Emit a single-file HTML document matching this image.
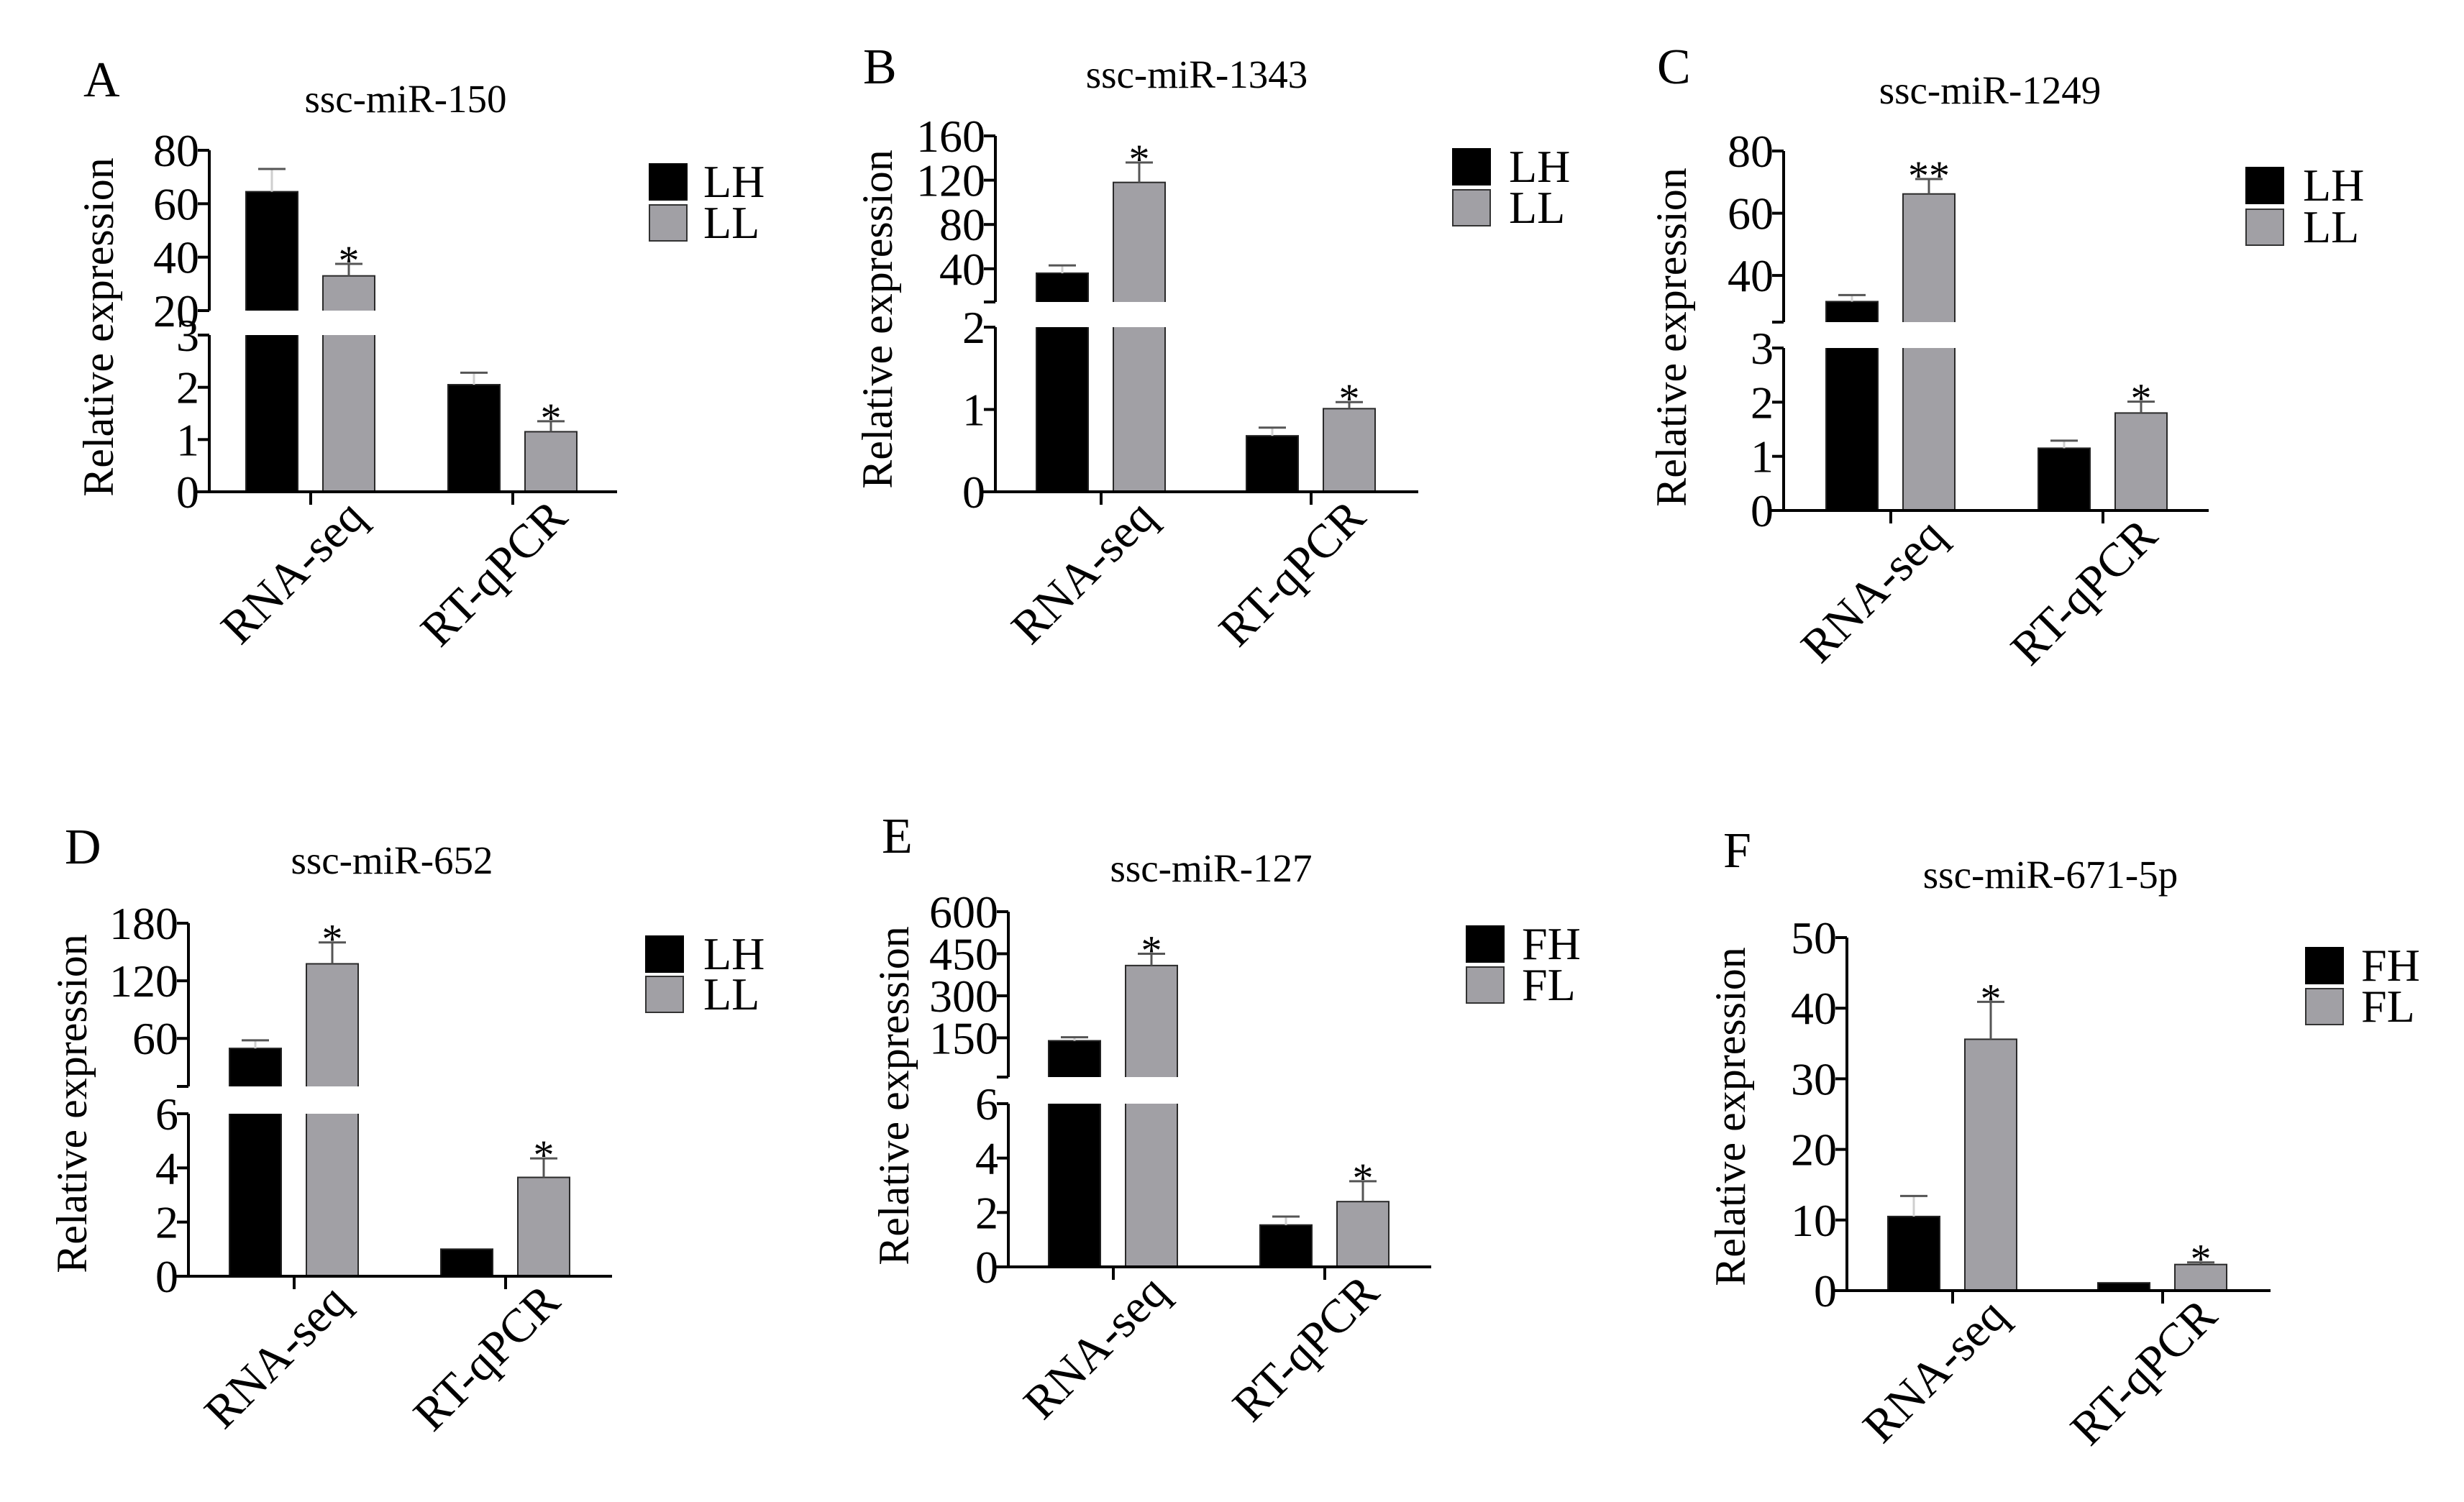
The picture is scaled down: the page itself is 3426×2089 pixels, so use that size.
<!DOCTYPE html>
<html><head><meta charset="utf-8"><style>
html,body{margin:0;padding:0;background:#fff;}
svg{display:block;}
text{font-family:"Liberation Serif",serif;fill:#000;}
</style></head><body>
<svg id="fig" width="3426" height="2089" viewBox="0 0 3426 2089" xmlns="http://www.w3.org/2000/svg"></svg>
<script>
// ---- data ----
const categories = ["RNA-seq", "RT-qPCR"];
// Panel A ssc-miR-150
const lhA = [64.5, 2.05], lhErrA = [73, 2.28], llA = [33, 1.15], llErrA = [37.5, 1.35];
const upperTicksA = [20, 40, 60, 80], lowerTicksA = [0, 1, 2, 3];
// Panel B ssc-miR-1343
const lhB = [36, 0.68], lhErrB = [43, 0.78], llB = [118, 1.01], llErrB = [136, 1.09];
const upperTicksB = [40, 80, 120, 160], lowerTicksB = [0, 1, 2];
// Panel C ssc-miR-1249
const lhC = [31.6, 1.15], lhErrC = [33.7, 1.29], llC = [66.2, 1.8], llErrC = [71, 2.01];
const upperTicksC = [40, 60, 80], lowerTicksC = [0, 1, 2, 3];
// Panel D ssc-miR-652
const lhD = [49.6, 1.0], lhErrD = [58, 1.0], llD = [137.7, 3.65], llErrD = [160, 4.35];
const upperTicksD = [60, 120, 180], lowerTicksD = [0, 2, 4, 6];
// Panel E ssc-miR-127
const lhE = [139.5, 1.54], lhErrE = [152, 1.85], llE = [408, 2.4], llErrE = [450, 3.15];
const upperTicksE = [150, 300, 450, 600], lowerTicksE = [0, 2, 4, 6];
// Panel F ssc-miR-671-5p
const lhF = [10.5, 1.1], lhErrF = [13.4, 1.2], llF = [35.6, 3.7], llErrF = [40.9, 4.0];
const ticksF = [0, 10, 20, 30, 40, 50];

const sigA = ["", "*", "", "*"], sigB = ["", "*", "", "*"], sigC = ["", "**", "", "*"];
const sigD = ["", "*", "", "*"], sigE = ["", "*", "", "*"], sigF = ["", "*", "", "*"];

// ---- layout (not data) ----
const panels = [
 {id:"a",letter:"A",title:"ssc-miR-150",leg:["LH","LL"],lh:lhA,lhE:lhErrA,ll:llA,llE:llErrA,sig:sigA,ut:upperTicksA,lt:lowerTicksA,
  ax:291,xEnd:858,up:{min:20,max:80,top:209,bot:432},lo:{min:0,max:3,top:466,bot:684},tk:[432,713],
  letterXY:[116,134],titleXY:[564,156],ylab:[137,455],legX:903,legText:978,legY:[228,285]},
 {id:"b",letter:"B",title:"ssc-miR-1343",leg:["LH","LL"],lh:lhB,lhE:lhErrB,ll:llB,llE:llErrB,sig:sigB,ut:upperTicksB,lt:lowerTicksB,
  ax:1384,xEnd:1972,up:{min:10,max:160,top:189,bot:420},lo:{min:0,max:2,top:455,bot:684},tk:[1531,1823],
  letterXY:[1200,116],titleXY:[1664,122],ylab:[1220,444],legX:2020,legText:2098,legY:[207,264]},
 {id:"c",letter:"C",title:"ssc-miR-1249",leg:["LH","LL"],lh:lhC,lhE:lhErrC,ll:llC,llE:llErrC,sig:sigC,ut:upperTicksC,lt:lowerTicksC,
  ax:2480,xEnd:3071,up:{min:25,max:80,top:210,bot:448},lo:{min:0,max:3,top:484,bot:710},tk:[2629,2924],
  letterXY:[2304,116],titleXY:[2767,144],ylab:[2324,469],legX:3123,legText:3202,legY:[233,291]},
 {id:"d",letter:"D",title:"ssc-miR-652",leg:["LH","LL"],lh:lhD,lhE:lhErrD,ll:llD,llE:llErrD,sig:sigD,ut:upperTicksD,lt:lowerTicksD,
  ax:262,xEnd:851,up:{min:10,max:180,top:1284,bot:1511},lo:{min:0,max:6,top:1549,bot:1775},tk:[409,703],
  letterXY:[90,1201],titleXY:[545,1215],ylab:[100,1535],legX:898,legText:978,legY:[1302,1358]},
 {id:"e",letter:"E",title:"ssc-miR-127",leg:["FH","FL"],lh:lhE,lhE:lhErrE,ll:llE,llE:llErrE,sig:sigE,ut:upperTicksE,lt:lowerTicksE,
  ax:1402,xEnd:1990,up:{min:10,max:600,top:1268,bot:1498},lo:{min:0,max:6,top:1535,bot:1762},tk:[1548,1842],
  letterXY:[1226,1186],titleXY:[1684,1226],ylab:[1243,1524],legX:2039,legText:2116,legY:[1288,1345]},
 {id:"f",letter:"F",title:"ssc-miR-671-5p",leg:["FH","FL"],lh:lhF,lhE:lhErrF,ll:llF,llE:llErrF,sig:sigF,ut:null,lt:ticksF,
  ax:2568,xEnd:3157,up:null,lo:{min:0,max:50,top:1304,bot:1795},tk:[2715,3007],
  letterXY:[2396,1206],titleXY:[2851,1235],ylab:[2406,1553],legX:3206,legText:3283,legY:[1318,1375]}
];

const NS = "http://www.w3.org/2000/svg";
const svg = document.getElementById("fig");
function mk(tag, attrs, parent, txt){
  const e = document.createElementNS(NS, tag);
  for (const k in attrs) e.setAttribute(k, attrs[k]);
  if (txt !== undefined) e.textContent = txt;
  (parent || svg).appendChild(e);
  return e;
}
function segY(seg, v){ return seg.bot - (v - seg.min) / (seg.max - seg.min) * (seg.bot - seg.top); }

panels.forEach(p => {
  const g = mk("g", {});
  
  
  const yv = v => {
    if (!p.up || v <= p.lo.max) return segY(p.lo, Math.max(v, p.lo.min));
    return segY(p.up, Math.max(p.up.min, Math.min(v, p.up.max)));
  };
  const baseY = p.lo.bot;

  let t = mk("text", {x:p.letterXY[0], y:p.letterXY[1], "font-size":70}, g, p.letter);
  
  
  t = mk("text", {x:p.titleXY[0], y:p.titleXY[1], "font-size":55, "text-anchor":"middle"}, g, p.title);
  
  
  t = mk("text", {x:0, y:0, "font-size":60, "text-anchor":"middle", "dominant-baseline":"central",
    transform:`translate(${p.ylab[0]},${p.ylab[1]}) rotate(-90)`}, g, "Relative expression");
  
  

  const barW = 72;
  const series = [
    {vals:p.lh, errs:p.lhE, fill:"#000", stroke:"#222", err:"#cfcfcf", off:-90, name:"lh"},
    {vals:p.ll, errs:p.llE, fill:"#a1a0a5", stroke:"#2a2a2a", err:"#555", off:17, name:"ll"}
  ];
  series.forEach((s, si) => {
    s.vals.forEach((v, ci) => {
      const x = p.tk[ci] + s.off;
      const yTop = yv(v);
      const r = mk("rect", {x:x, y:yTop, width:barW, height:baseY - yTop, fill:s.fill, stroke:s.stroke, "stroke-width":2}, g);
      
      
      const ye = yv(s.errs[ci]);
      const cx = x + barW / 2;
      if (ye < yTop - 1) {
        const el = mk("line", {x1:cx, x2:cx, y1:yTop, y2:ye, stroke:s.err, "stroke-width":3}, g);
        
        
        const cap = mk("line", {x1:cx - 19, x2:cx + 19, y1:ye, y2:ye, stroke:"#555", "stroke-width":3}, g);
        
        
      }
      const sg = p.sig[ci * 2 + si];
      if (sg) {
        const st = mk("text", {x:cx, y:Math.min(ye, yTop) + 15, "font-size":58, "text-anchor":"middle"}, g, sg);
        
        
      }
    });
  });

  if (p.up) {
    const gap = mk("rect", {x:p.ax + 20, y:p.up.bot, width:p.xEnd - p.ax - 20, height:p.lo.top - p.up.bot, fill:"#fff"}, g);
    
    
  }

  const axes = mk("g", {stroke:"#000", "stroke-width":4, fill:"none"}, g);
  
  
  mk("line", {x1:p.ax, x2:p.ax, y1:p.lo.top, y2:p.lo.bot + 2}, axes);
  mk("line", {x1:p.ax - 20, x2:p.xEnd, y1:p.lo.bot, y2:p.lo.bot}, axes);
  const tickLabel = (v, y) => {
    const tl = mk("text", {x:p.ax - 14, y:y + 22, "font-size":64, "text-anchor":"end"}, g, String(v));
    
    
  };
  if (p.up) {
    mk("line", {x1:p.ax, x2:p.ax, y1:p.up.top, y2:p.up.bot}, axes);
    mk("line", {x1:p.ax - 16, x2:p.ax, y1:p.up.bot, y2:p.up.bot}, axes);
    mk("line", {x1:p.ax - 16, x2:p.ax, y1:p.lo.top, y2:p.lo.top}, axes);
    p.ut.forEach(v => {
      const y = segY(p.up, v);
      mk("line", {x1:p.ax - 16, x2:p.ax, y1:y, y2:y}, axes);
      tickLabel(v, y);
    });
  }
  p.lt.forEach(v => {
    const y = segY(p.lo, v);
    mk("line", {x1:p.ax - 16, x2:p.ax, y1:y, y2:y}, axes);
    tickLabel(v, y);
  });
  p.tk.forEach((x, ci) => {
    mk("line", {x1:x, x2:x, y1:p.lo.bot, y2:p.lo.bot + 18}, axes);
    const xl = mk("text", {x:0, y:0, "font-size":66, "text-anchor":"end", "dominant-baseline":"hanging",
      transform:`translate(${x + 46},${p.lo.bot + 6}) rotate(-45)`}, g, categories[ci]);
    
    
  });

  const lg = mk("g", {}, g);
  
  
  [["#000", "#000"], ["#a1a0a5", "#333"]].forEach((c, i) => {
    const y0 = p.legY[i];
    const ent = mk("g", {}, lg);
    
    
    mk("rect", {x:p.legX, y:y0, width:52, height:50, fill:c[0], stroke:c[1], "stroke-width":2}, ent);
    mk("text", {x:p.legText, y:y0 + 46, "font-size":64}, ent, p.leg[i]);
  });
});
</script>
</body></html>
